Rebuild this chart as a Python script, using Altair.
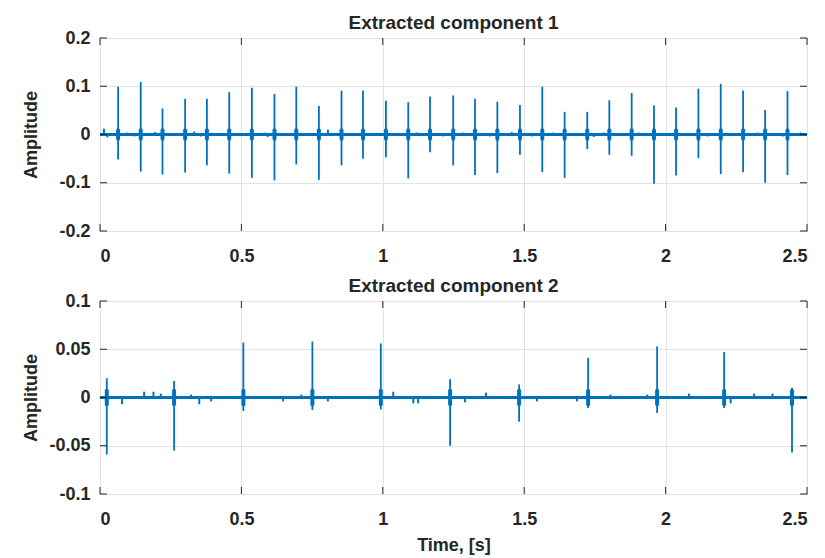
import altair as alt
import pandas as pd

BLUE = "#0072BD"
INK = "#262626"
FONT = "Liberation Sans"

# ---- Component 1: spike times [s], positive and negative peak amplitudes
c1_time = [0.064, 0.144, 0.221, 0.301, 0.378, 0.457, 0.537, 0.617, 0.694, 0.774,
           0.854, 0.930, 1.011, 1.090, 1.167, 1.249, 1.326, 1.405, 1.485, 1.564,
           1.643, 1.723, 1.801, 1.880, 1.959, 2.037, 2.116, 2.195, 2.274, 2.352, 2.431]
c1_pos = [0.099, 0.109, 0.054, 0.074, 0.074, 0.088, 0.097, 0.084, 0.099, 0.059,
          0.091, 0.091, 0.070, 0.067, 0.079, 0.081, 0.074, 0.068, 0.061, 0.099,
          0.047, 0.047, 0.071, 0.086, 0.060, 0.056, 0.095, 0.105, 0.091, 0.051, 0.090]
c1_neg = [-0.052, -0.077, -0.083, -0.079, -0.064, -0.081, -0.090, -0.095, -0.062, -0.094,
          -0.064, -0.050, -0.047, -0.091, -0.037, -0.064, -0.084, -0.080, -0.042, -0.078,
          -0.090, -0.030, -0.042, -0.044, -0.102, -0.085, -0.049, -0.082, -0.078, -0.100, -0.084]
# small background blips
c1_blip_time = [0.014, 0.026, 0.097, 0.121, 0.195, 0.333, 0.357, 0.582, 0.593, 0.806,
                1.119, 1.214, 1.285, 1.379, 1.456, 1.527, 1.604, 1.746, 1.781, 1.905,
                2.148, 2.325, 2.414, 2.479]
c1_blip_amp = [0.012, -0.006, 0.004, -0.004, 0.005, 0.006, -0.004, 0.004, -0.005, 0.010,
               0.004, -0.004, 0.004, -0.004, 0.005, -0.004, 0.004, -0.005, 0.004, 0.004,
               -0.004, 0.004, -0.004, 0.004]

# ---- Component 2
c2_time = [0.024, 0.262, 0.507, 0.751, 0.993, 1.238, 1.482, 1.726, 1.970, 2.207, 2.447]
c2_pos = [0.020, 0.017, 0.057, 0.058, 0.056, 0.019, 0.0135, 0.041, 0.053, 0.047, 0.010]
c2_neg = [-0.059, -0.055, -0.014, -0.013, -0.0125, -0.050, -0.025, -0.011, -0.016, -0.011, -0.057]
c2_blip_time = [0.078, 0.156, 0.189, 0.215, 0.322, 0.351, 0.393, 0.647, 0.712, 0.806,
                1.037, 1.108, 1.125, 1.291, 1.365, 1.545, 1.687, 1.805, 1.935, 2.083,
                2.230, 2.313, 2.378]
c2_blip_amp = [-0.007, 0.006, 0.006, 0.004, 0.003, -0.007, -0.004, -0.004, 0.003, -0.004,
               0.006, -0.006, -0.006, -0.005, 0.005, -0.004, -0.004, 0.003, 0.003, 0.004,
               -0.006, 0.004, 0.004]

x_ticks = [0, 0.5, 1, 1.5, 2, 2.5]
c1_y_ticks = [-0.2, -0.1, 0, 0.1, 0.2]
c2_y_ticks = [-0.1, -0.05, 0, 0.05, 0.1]

W, H = 707, 193
TICK_LEN = 7


def panel(title, times, pos, neg, blip_t, blip_a, y_ticks, blob, x_title):
    xs = alt.Scale(domain=[0, 2.5], nice=False, zero=False)
    ys = alt.Scale(domain=[y_ticks[0], y_ticks[-1]], nice=False, zero=False)

    x_axis = alt.Axis(values=x_ticks, labelExpr="datum.value + ''", grid=True,
                      title=x_title, ticks=False, domain=False, labelPadding=16,
                      titlePadding=8)
    y_axis = alt.Axis(values=y_ticks, labelExpr="datum.value + ''", grid=True,
                      title="Amplitude", ticks=False, domain=False, labelPadding=10,
                      titleX=-60, titleY=H / 2)

    spikes = pd.DataFrame({"t": times, "hi": pos, "lo": neg})
    blips = pd.DataFrame({"t": blip_t, "a": blip_a, "z": [0.0] * len(blip_t)})
    base = pd.DataFrame({"t0": [0.0], "t1": [2.5], "y": [0.0]})
    blobs = pd.DataFrame({"t": times, "hi": [blob] * len(times), "lo": [-blob] * len(times)})

    baseline = alt.Chart(base).mark_rule(color=BLUE, strokeWidth=3).encode(
        x=alt.X("t0:Q", scale=xs, axis=x_axis),
        x2="t1:Q",
        y=alt.Y("y:Q", scale=ys, axis=y_axis),
    )
    spike_rules = alt.Chart(spikes).mark_rule(color=BLUE, strokeWidth=1.8).encode(
        x=alt.X("t:Q", scale=xs), y=alt.Y("hi:Q", scale=ys), y2="lo:Q")
    blob_rules = alt.Chart(blobs).mark_rule(color=BLUE, strokeWidth=4, strokeCap="round").encode(
        x=alt.X("t:Q", scale=xs), y=alt.Y("hi:Q", scale=ys), y2="lo:Q")
    blip_rules = alt.Chart(blips).mark_rule(color=BLUE, strokeWidth=2).encode(
        x=alt.X("t:Q", scale=xs), y=alt.Y("a:Q", scale=ys), y2="z:Q")

    # inward tick marks on all four sides
    xt = pd.DataFrame({"v": x_ticks})
    yt = pd.DataFrame({"v": y_ticks})
    tick_style = dict(color=INK, strokeWidth=1)
    xt_bottom = alt.Chart(xt).mark_rule(**tick_style).encode(
        x=alt.X("v:Q", scale=xs), y=alt.value(H), y2=alt.value(H - TICK_LEN))
    xt_top = alt.Chart(xt).mark_rule(**tick_style).encode(
        x=alt.X("v:Q", scale=xs), y=alt.value(0), y2=alt.value(TICK_LEN))
    yt_left = alt.Chart(yt).mark_rule(**tick_style).encode(
        y=alt.Y("v:Q", scale=ys), x=alt.value(0), x2=alt.value(TICK_LEN))
    yt_right = alt.Chart(yt).mark_rule(**tick_style).encode(
        y=alt.Y("v:Q", scale=ys), x=alt.value(W), x2=alt.value(W - TICK_LEN))

    return alt.layer(
        baseline, blip_rules, blob_rules, spike_rules,
        xt_bottom, xt_top, yt_left, yt_right,
    ).properties(
        width=W, height=H,
        title=alt.TitleParams(title, fontSize=19, fontWeight="bold", font=FONT,
                              color=INK, offset=-4, frame="group"),
    )


top = panel("Extracted component 1", c1_time, c1_pos, c1_neg,
            c1_blip_time, c1_blip_amp, c1_y_ticks, 0.009, None)
bottom = panel("Extracted component 2", c2_time, c2_pos, c2_neg,
               c2_blip_time, c2_blip_amp, c2_y_ticks, 0.007, "Time, [s]")

chart = alt.vconcat(top, bottom, spacing=10).properties(
    padding={"left": 21, "top": 13, "right": 10, "bottom": 2},
    background="white",
).configure_view(
    stroke=INK, strokeWidth=1,
).configure_axis(
    labelFont=FONT, labelFontSize=18, labelFontWeight="bold", labelColor=INK,
    titleFont=FONT, titleFontSize=18, titleFontWeight="bold", titleColor=INK,
    gridColor="#e3e3e3", gridWidth=1,
)

chart.save("out.html", embed_options={"renderer": "svg", "actions": False})
